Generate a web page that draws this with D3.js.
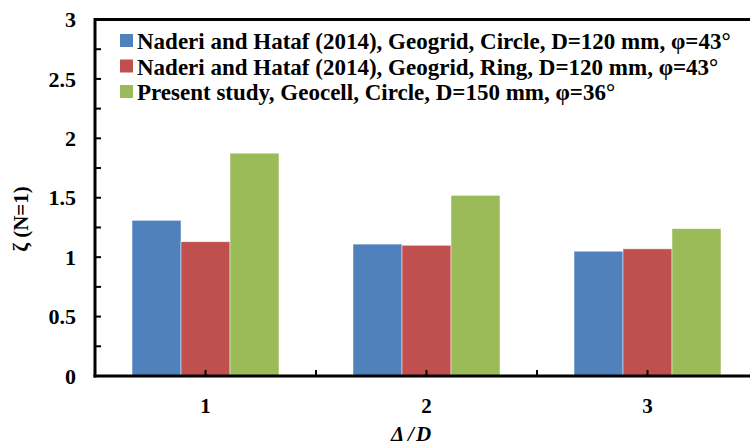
<!DOCTYPE html>
<meta charset="utf-8">
<style>
  body { margin: 0; background: #fff; }
  svg text { font-family: "Liberation Serif", "Times New Roman", serif; font-weight: bold; fill: #000; }
</style>
<body>
<script src="https://d3js.org/d3.v7.min.js"></script>
<script>
var categories = ["1", "2", "3"];
var seriesNames = [
  "Naderi and Hataf (2014), Geogrid, Circle, D=120 mm, \u03c6=43\u00b0",
  "Naderi and Hataf (2014), Geogrid, Ring, D=120 mm, \u03c6=43\u00b0",
  "Present study, Geocell, Circle, D=150 mm, \u03c6=36\u00b0"
];
var naderiCircle = [1.31, 1.11, 1.05];
var naderiRing = [1.13, 1.10, 1.07];
var presentStudy = [1.875, 1.52, 1.24];
var yTicks = [0, 0.5, 1, 1.5, 2, 2.5, 3];
var colors = ["#4F81BD", "#C0504D", "#9BBB59"];

var W = 750, H = 445;
var margin = {left: 95, top: 19.5},
    plotW = 663, plotH = 356.5;

var svg = d3.select("body").append("svg")
  .attr("width", W).attr("height", H);
var g = svg.append("g").attr("transform", "translate(" + margin.left + "," + margin.top + ")");

var x0 = d3.scaleBand().domain(categories).range([0, plotW])
  .paddingInner(0.335).paddingOuter(0.1675);
var x1 = d3.scaleBand().domain([0, 1, 2]).range([0, x0.bandwidth()]);
var y = d3.scaleLinear().domain([0, 3]).range([plotH, 0]);

var series = [naderiCircle, naderiRing, presentStudy];

// bars
categories.forEach(function (c, i) {
  series.forEach(function (s, k) {
    g.append("rect")
      .attr("x", x0(c) + x1(k))
      .attr("y", y(s[i]))
      .attr("width", x1.bandwidth())
      .attr("height", y(0) - y(s[i]))
      .attr("fill", colors[k])
      .attr("stroke", "rgba(255,255,255,0.6)")
      .attr("stroke-width", 0.8);
  });
});

// frame top and right
g.append("line").attr("x1", 0).attr("x2", plotW).attr("y1", 0).attr("y2", 0)
  .attr("stroke", "#000").attr("stroke-width", 3);
g.append("line").attr("x1", plotW).attr("x2", plotW).attr("y1", 0).attr("y2", plotH)
  .attr("stroke", "#000").attr("stroke-width", 3);

// y axis, ticks every 0.25 pointing inward
var yMinor = d3.range(0, 3.01, 0.25);
g.selectAll(".ytick").data(yMinor).enter().append("line")
  .attr("x1", 0).attr("x2", 6)
  .attr("y1", function (d) { return y(d); }).attr("y2", function (d) { return y(d); })
  .attr("stroke", "#000").attr("stroke-width", 2);
g.append("line").attr("x1", 0).attr("x2", 0).attr("y1", -1.5).attr("y2", plotH + 1.5)
  .attr("stroke", "#000").attr("stroke-width", 3);
g.selectAll(".ylab").data(yTicks).enter().append("text")
  .attr("x", -19).attr("y", function (d) { return y(d); })
  .attr("dy", "0.35em").attr("text-anchor", "end")
  .style("font-size", "22px")
  .text(function (d) { return d; });

// x axis, ticks at centres and boundaries
var xTickPos = [];
categories.forEach(function (c, i) {
  xTickPos.push(x0(c) + x0.bandwidth() / 2);
  if (i > 0) xTickPos.push(x0.step() * i);
});
g.selectAll(".xtick").data(xTickPos).enter().append("line")
  .attr("x1", function (d) { return d; }).attr("x2", function (d) { return d; })
  .attr("y1", plotH).attr("y2", plotH - 6)
  .attr("stroke", "#000").attr("stroke-width", 2);
g.append("line").attr("x1", -1.5).attr("x2", plotW).attr("y1", plotH).attr("y2", plotH)
  .attr("stroke", "#000").attr("stroke-width", 3);
g.selectAll(".xlab").data(categories).enter().append("text")
  .attr("x", function (d) { return x0(d) + x0.bandwidth() / 2; })
  .attr("y", plotH + 37)
  .attr("text-anchor", "middle")
  .style("font-size", "21px")
  .text(function (d) { return d; });

// axis titles
var xt = svg.append("text")
  .attr("x", 411).attr("y", 441)
  .attr("text-anchor", "middle")
  .style("font-size", "21px").style("font-style", "italic");
xt.append("tspan").text("\u0394");
xt.append("tspan").attr("dx", 4).text("/");
xt.append("tspan").attr("dx", 2).text("D");

svg.append("text")
  .attr("transform", "translate(28,219) rotate(-90)")
  .attr("text-anchor", "middle")
  .style("font-size", "21px")
  .text("\u03b6 (N=1)");

// legend
var legend = svg.append("g").attr("transform", "translate(120,41)");
seriesNames.forEach(function (name, k) {
  var row = legend.append("g").attr("transform", "translate(0," + (k * 25.5) + ")");
  row.append("rect").attr("x", 0).attr("y", -7).attr("width", 13).attr("height", 13)
    .attr("fill", colors[k]);
  row.append("text").attr("x", 17).attr("y", 0).attr("dy", "0.35em")
    .style("font-size", "23px")
    .text(name);
});
</script>
</body>
